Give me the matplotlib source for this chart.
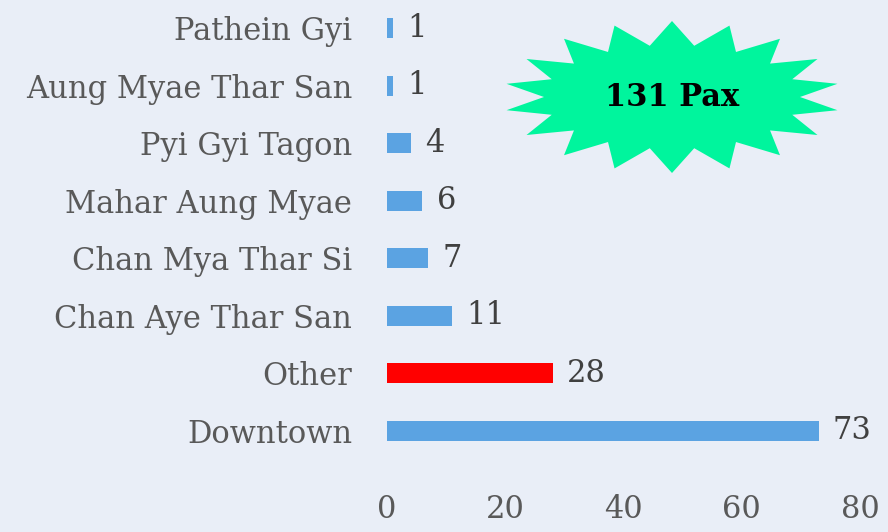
import numpy as np
import matplotlib
matplotlib.use("Agg")
import matplotlib.pyplot as plt
from matplotlib.patches import Polygon

categories = ["Downtown", "Other", "Chan Aye Thar San", "Chan Mya Thar Si",
              "Mahar Aung Myae", "Pyi Gyi Tagon", "Aung Myae Thar San", "Pathein Gyi"]
values = [73, 28, 11, 7, 6, 4, 1, 1]
bar_colors = ["#5BA3E2", "#FF0000", "#5BA3E2", "#5BA3E2", "#5BA3E2", "#5BA3E2", "#5BA3E2", "#5BA3E2"]
xticks = [0, 20, 40, 60, 80]
badge_text = "131 Pax"

bg = "#E9EEF7"
txt = "#595959"
font = "DejaVu Serif"
fs = 22

fig = plt.figure(figsize=(8.88, 5.32), dpi=100, facecolor=bg)
ax = fig.add_axes([387/888, 1-470/532, (860-387)/888, 470/532])
ax.set_facecolor(bg)

y = np.arange(len(categories))
ax.barh(y, values, height=0.35, color=bar_colors)
for yi, v in zip(y, values):
    ax.text(v + 2.4, yi, str(v), va="center", ha="left", fontsize=fs,
            color="#404040", family=font)

ax.set_xlim(0, 80)
ax.set_ylim(-0.68, 7.49)
ax.set_yticks(y)
ax.set_yticklabels(categories, fontsize=fs, color=txt, family=font)
ax.set_xticks(xticks)
ax.set_xticklabels([str(t) for t in xticks], fontsize=fs, color=txt, family=font)
ax.tick_params(axis="both", length=0)
ax.tick_params(axis="y", pad=25)
ax.tick_params(axis="x", pad=17)
for s in ax.spines.values():
    s.set_visible(False)

# starburst badge (figure pixel coordinates)
cx, cy = 672, 532 - 97
rx_o, ry_o = 168, 76
rx_i, ry_i = 128, 52
n = 18
pts = []
for k in range(2 * n):
    a = np.pi / 2 + k * np.pi / n
    if k % 2 == 0:
        pts.append((cx + rx_o * np.cos(a), cy + ry_o * np.sin(a)))
    else:
        pts.append((cx + rx_i * np.cos(a), cy + ry_i * np.sin(a)))
pts = [(px / 888, py / 532) for px, py in pts]
star = Polygon(pts, closed=True, transform=fig.transFigure, facecolor="#00F59D",
               edgecolor="none", zorder=5)
fig.patches.append(star)
fig.text(cx / 888, cy / 532, badge_text, ha="center", va="center", fontsize=fs,
         fontweight="bold", color="black", family=font, zorder=6)

fig.savefig("out.png", dpi=100, facecolor=bg)
